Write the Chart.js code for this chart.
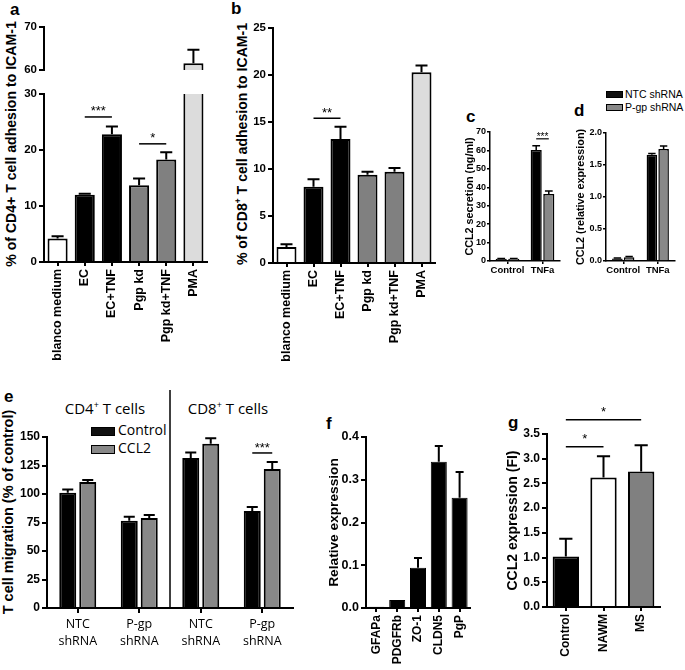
<!DOCTYPE html>
<html>
<head>
<meta charset="utf-8">
<script src="https://cdn.jsdelivr.net/npm/chart.js@4.4.1/dist/chart.umd.min.js"></script>
<style>
  html, body { margin: 0; padding: 0; background: #fff; }
  body { width: 685px; height: 670px; overflow: hidden; position: relative; font-family: "Liberation Sans", Arial, sans-serif; color: #000; }
  canvas { position: absolute; display: block; }
  .lbl { position: absolute; font-weight: bold; font-size: 17px; line-height: 1; }
  .vt { position: absolute; white-space: nowrap; transform: translate(-50%, -50%) rotate(-90deg); font-weight: bold; line-height: 1; }
  .vt sup, .hdr sup { font-size: 60%; vertical-align: top; position: relative; top: -0.15em; }
  .hdr { position: absolute; white-space: nowrap; font-family: "Open Sans", sans-serif; font-size: 15px; line-height: 1; transform: translate(-50%, -50%); }
  .leg { position: absolute; white-space: nowrap; line-height: 1; }
  .sw { position: absolute; box-sizing: border-box; }
</style>
</head>
<body>
<!-- panel letters -->
<div class="lbl" style="left:10px;top:1px">a</div>
<div class="lbl" style="left:231px;top:0px">b</div>
<div class="lbl" style="left:466px;top:108px">c</div>
<div class="lbl" style="left:574px;top:102px">d</div>
<div class="lbl" style="left:4px;top:388px">e</div>
<div class="lbl" style="left:326px;top:415px">f</div>
<div class="lbl" style="left:508px;top:414px">g</div>

<!-- y titles drawn as text -->
<div class="vt" style="left:11px;top:144px;font-size:14.1px">% of CD4+ T cell adhesion to ICAM-1</div>
<div class="vt" style="left:242px;top:144px;font-size:14.1px">% of CD8<sup>+</sup> T cell adhesion to ICAM-1</div>
<div class="vt" style="left:8px;top:512px;font-size:14.5px">T cell migration (% of control)</div>

<!-- legend c/d -->
<div class="sw" style="left:606px;top:91px;width:17px;height:7px;background:#111;border:1.5px solid #000"></div>
<div class="sw" style="left:606px;top:104px;width:17px;height:7px;background:#888;border:1.5px solid #000"></div>
<div class="leg" style="left:625px;top:89px;font-size:10.5px">NTC shRNA</div>
<div class="leg" style="left:625px;top:102px;font-size:10.5px">P-gp shRNA</div>

<!-- panel e headers and legend -->
<div class="hdr" style="left:105px;top:408px">CD4<sup>+</sup> T cells</div>
<div class="hdr" style="left:228px;top:408px">CD8<sup>+</sup> T cells</div>
<div class="sw" style="left:91px;top:427px;width:24px;height:9px;background:#111;border:1.5px solid #000"></div>
<div class="sw" style="left:91px;top:445px;width:24px;height:9px;background:#888;border:1.5px solid #000"></div>
<div class="leg" style="left:118px;top:423px;font-size:14px;font-family:'Open Sans',sans-serif">Control</div>
<div class="leg" style="left:118px;top:441px;font-size:14px;font-family:'Open Sans',sans-serif">CCL2</div>

<canvas id="aTop" width="215" height="62" style="left:0px;top:17px"></canvas>
<canvas id="aBot" width="215" height="288" style="left:0px;top:84px"></canvas>
<canvas id="bChart" width="215" height="355" style="left:230px;top:18px"></canvas>
<canvas id="cChart" width="110" height="160" style="left:455px;top:122px"></canvas>
<canvas id="dChart" width="120" height="159" style="left:565px;top:123px"></canvas>
<canvas id="eChart" width="300" height="285" style="left:0px;top:385px"></canvas>
<canvas id="fChart" width="160" height="245" style="left:320px;top:425px"></canvas>
<canvas id="gChart" width="190" height="270" style="left:495px;top:400px"></canvas>

<script>
// ---------------- DATA ----------------
const adhesionCategories = ['blanco medium', 'EC', 'EC+TNF', 'Pgp kd', 'Pgp kd+TNF', 'PMA'];
const cd4Adhesion    = [4.2, 12.0, 22.8, 13.7, 18.3, 61.6];
const cd4AdhesionErr = [0.4, 0.2, 1.4, 1.2, 1.3, 3.1];
const cd4Sig = [
  { from: [0, 1], to: [0, 2], y: 25.9, text: '***' },
  { from: [0, 3], to: [0, 4], y: 21.1, text: '*' }
];
const cd8Adhesion    = [1.7, 8.1, 13.2, 9.4, 9.7, 20.3];
const cd8AdhesionErr = [0.3, 0.8, 1.3, 0.3, 0.4, 0.7];
const cd8Sig = [{ from: [0, 1], to: [0, 2], y: 15.4, text: '**' }];

const ccl2Categories = ['Control', 'TNFa'];
const secretionNTC    = [1.2, 60.3];
const secretionNTCErr = [0.2, 2.2];
const secretionPgp    = [1.2, 36.4];
const secretionPgpErr = [0.2, 1.6];
const secretionSig = [{ from: [0, 1], to: [1, 1], y: 66.3, text: '***' }];
const expressionNTC    = [0.04, 1.66];
const expressionNTCErr = [0.005, 0.02];
const expressionPgp    = [0.06, 1.75];
const expressionPgpErr = [0.01, 0.045];

const migrationCategories = [['NTC', 'shRNA'], ['P-gp', 'shRNA'], ['NTC', 'shRNA'], ['P-gp', 'shRNA']];
const migrationControl    = [101, 76.5, 131.5, 85];
const migrationControlErr = [3, 3.5, 5, 3.5];
const migrationCCL2       = [110.5, 79, 144, 122];
const migrationCCL2Err    = [1.8, 2.5, 5, 6];
const migrationSig = [{ from: [0, 3], to: [1, 3], y: 136, text: '***' }];

const markerCategories = ['GFAPa', 'PDGFRb', 'ZO-1', 'CLDN5', 'PgP'];
const markerExpression = [0.003, 0.019, 0.094, 0.342, 0.258];
const markerErr        = [0, 0, 0.023, 0.037, 0.06];

const tissueCategories = ['Control', 'NAWM', 'MS'];
const tissueCCL2    = [1.02, 2.62, 2.74];
const tissueCCL2Err = [0.36, 0.43, 0.53];
const tissueSig = [
  { from: [0, 0], to: [0, 1], y: 3.24, text: '*' },
  { from: [0, 0], to: [0, 2], y: 3.79, text: '*' }
];

// ---------------- STYLE / HELPERS ----------------
const FONT = "'Liberation Sans', Arial, sans-serif";
const OPEN = "'Open Sans', sans-serif";
Chart.defaults.font.family = FONT;
Chart.defaults.color = '#000';
Chart.defaults.animation = false;
Chart.defaults.plugins.legend.display = false;
Chart.defaults.plugins.tooltip.enabled = false;

const errorBars = {
  id: 'errbars',
  afterDatasetsDraw(chart, args, opts) {
    const ctx = chart.ctx, ys = chart.scales.y, a = chart.chartArea;
    ctx.save();
    ctx.beginPath();
    ctx.rect(a.left - 3, a.top - 3, a.right - a.left + 6, a.bottom - a.top + 6);
    ctx.clip();
    ctx.strokeStyle = '#000';
    ctx.lineWidth = opts.lineWidth || 2;
    chart.data.datasets.forEach((ds, di) => {
      if (!ds.errors) return;
      chart.getDatasetMeta(di).data.forEach((el, i) => {
        const e = ds.errors[i];
        if (!e) return;
        const v = ds.data[i];
        const y0 = ys.getPixelForValue(v), y1 = ys.getPixelForValue(v + e);
        const cw = el.width * (opts.cap || 0.6);
        ctx.beginPath();
        ctx.moveTo(el.x, y0); ctx.lineTo(el.x, y1);
        ctx.moveTo(el.x - cw / 2, y1); ctx.lineTo(el.x + cw / 2, y1);
        ctx.stroke();
      });
    });
    ctx.restore();
  }
};

const sigMarks = {
  id: 'sig',
  afterDatasetsDraw(chart, args, opts) {
    if (!opts.items) return;
    const ctx = chart.ctx, ys = chart.scales.y;
    ctx.save();
    ctx.strokeStyle = '#000'; ctx.fillStyle = '#000';
    ctx.lineWidth = opts.lineWidth || 1.5;
    ctx.font = opts.font || ('13px ' + FONT);
    ctx.textAlign = 'center'; ctx.textBaseline = 'alphabetic';
    opts.items.forEach(it => {
      const x1 = chart.getDatasetMeta(it.from[0]).data[it.from[1]].x;
      const x2 = chart.getDatasetMeta(it.to[0]).data[it.to[1]].x;
      const y = ys.getPixelForValue(it.y);
      ctx.beginPath(); ctx.moveTo(x1, y); ctx.lineTo(x2, y); ctx.stroke();
      ctx.fillText(it.text, (x1 + x2) / 2, y + (opts.dy || 0));
    });
    ctx.restore();
  }
};

const divider = {
  id: 'divider',
  afterDraw(chart, args, opts) {
    if (!opts.enabled) return;
    const xs = chart.scales.x, ctx = chart.ctx;
    const x = (xs.getPixelForTick(1) + xs.getPixelForTick(2)) / 2;
    ctx.save();
    ctx.strokeStyle = '#000'; ctx.lineWidth = opts.lineWidth || 1.5;
    ctx.beginPath(); ctx.moveTo(x, opts.top); ctx.lineTo(x, chart.chartArea.bottom); ctx.stroke();
    ctx.restore();
  }
};

function yAxis(o) {
  return {
    type: 'linear', min: o.min, max: o.max,
    afterFit: s => { s.width = o.width; },
    ticks: { stepSize: o.step, font: { size: o.fs, weight: 'bold', family: FONT }, color: '#000', padding: o.pad, callback: o.fmt || (v => v) },
    grid: { display: true, drawOnChartArea: false, drawTicks: true, tickLength: o.tl, color: '#000', lineWidth: o.lw },
    border: { display: true, color: '#000', width: o.lw },
    title: o.title ? { display: true, text: o.title, color: '#000', font: { size: o.tfs, weight: 'bold', family: FONT }, padding: { top: o.tpad, bottom: 0 } } : { display: false }
  };
}
function xAxis(o) {
  return {
    type: 'category', offset: true, display: o.display !== false,
    afterFit: s => { s.height = o.height; },
    ticks: { font: { size: o.fs, weight: o.weight || 'bold', family: o.family || FONT, lineHeight: o.lh || 1.2 }, color: '#000', padding: o.pad, autoSkip: false, maxRotation: o.rot || 0, minRotation: o.rot || 0 },
    grid: { display: true, offset: false, drawOnChartArea: false, drawTicks: true, tickLength: o.tl, color: '#000', lineWidth: o.lw },
    border: { display: true, color: '#000', width: o.lw }
  };
}
function make(id, cfg) {
  return new Chart(document.getElementById(id), {
    type: 'bar',
    data: cfg.data,
    plugins: [errorBars, sigMarks, divider],
    options: {
      responsive: false, devicePixelRatio: 1, animation: false,
      layout: { padding: cfg.padding, autoPadding: false },
      datasets: { bar: cfg.bar },
      scales: { x: cfg.x, y: cfg.y },
      plugins: { legend: { display: false }, tooltip: { enabled: false },
        errbars: cfg.err || {}, sig: cfg.sig || {}, divider: cfg.divider || {} }
    }
  });
}

const adhesionFill = ['#ffffff', '#000000', '#000000', '#808080', '#808080', '#dcdcdc'];

// ---------------- PANEL a (broken axis: two stacked charts) ----------------
function cd4Dataset() {
  return { data: cd4Adhesion, errors: cd4AdhesionErr, backgroundColor: adhesionFill, borderColor: '#000', borderWidth: 2, clip: 0 };
}
make('aTop', {
  data: { labels: adhesionCategories, datasets: [cd4Dataset()] },
  padding: { left: 0, top: 10, right: 8, bottom: 3 },
  bar: { categoryPercentage: 1, barPercentage: 0.74 },
  x: Object.assign(xAxis({ height: 0, fs: 12, tl: 0, lw: 2, pad: 0 }), { display: false, afterFit: s => { s.height = 0; } }),
  y: yAxis({ min: 60, max: 70, step: 10, width: 44, fs: 11.5, pad: 2, tl: 5, lw: 2 }),
  err: { lineWidth: 2, cap: 0.6 }
});
make('aBot', {
  data: { labels: adhesionCategories, datasets: [cd4Dataset()] },
  padding: { left: 0, top: 10, right: 8, bottom: 0 },
  bar: { categoryPercentage: 1, barPercentage: 0.74 },
  x: xAxis({ height: 110, fs: 12.5, tl: 4, lw: 2, pad: 3, rot: 90 }),
  y: yAxis({ min: 0, max: 30, step: 10, width: 44, fs: 11.5, pad: 2, tl: 5, lw: 2 }),
  err: { lineWidth: 2, cap: 0.6 },
  sig: { items: cd4Sig, lineWidth: 1.5, font: '13px ' + FONT, dy: -1.5 }
});

// ---------------- PANEL b ----------------
make('bChart', {
  data: { labels: adhesionCategories, datasets: [{ data: cd8Adhesion, errors: cd8AdhesionErr, backgroundColor: adhesionFill, borderColor: '#000', borderWidth: 2, clip: 0 }] },
  padding: { left: 0, top: 10, right: 10, bottom: 0 },
  bar: { categoryPercentage: 1, barPercentage: 0.74 },
  x: xAxis({ height: 110, fs: 12.5, tl: 4, lw: 2, pad: 3, rot: 90 }),
  y: yAxis({ min: 0, max: 25, step: 5, width: 43, fs: 11.5, pad: 2, tl: 5, lw: 2 }),
  err: { lineWidth: 2, cap: 0.6 },
  sig: { items: cd8Sig, lineWidth: 1.5, font: '13px ' + FONT, dy: -1.5 }
});

// ---------------- PANEL c ----------------
make('cChart', {
  data: { labels: ccl2Categories, datasets: [
    { label: 'NTC shRNA', data: secretionNTC, errors: secretionNTCErr, backgroundColor: '#000', borderColor: '#000', borderWidth: 1.5 },
    { label: 'P-gp shRNA', data: secretionPgp, errors: secretionPgpErr, backgroundColor: '#888', borderColor: '#000', borderWidth: 1.5 }
  ] },
  padding: { left: 0, top: 10, right: 5, bottom: 0 },
  bar: { categoryPercentage: 0.72, barPercentage: 0.88 },
  x: xAxis({ height: 21, fs: 9.5, tl: 3, lw: 1.5, pad: 1 }),
  y: yAxis({ min: 0, max: 70, step: 10, width: 35, fs: 9, pad: 1, tl: 3, lw: 1.5, title: 'CCL2 secretion (ng/ml)', tfs: 10.8, tpad: 8.5 }),
  err: { lineWidth: 1.5, cap: 0.7 },
  sig: { items: secretionSig, lineWidth: 1.2, font: '10px ' + FONT, dy: 1 }
});

// ---------------- PANEL d ----------------
make('dChart', {
  data: { labels: ccl2Categories, datasets: [
    { label: 'NTC shRNA', data: expressionNTC, errors: expressionNTCErr, backgroundColor: '#000', borderColor: '#000', borderWidth: 1.5 },
    { label: 'P-gp shRNA', data: expressionPgp, errors: expressionPgpErr, backgroundColor: '#888', borderColor: '#000', borderWidth: 1.5 }
  ] },
  padding: { left: 0, top: 10, right: 10, bottom: 0 },
  bar: { categoryPercentage: 0.68, barPercentage: 0.9 },
  x: xAxis({ height: 21, fs: 9.5, tl: 3, lw: 1.5, pad: 1 }),
  y: yAxis({ min: 0, max: 2, step: 0.5, width: 41, fs: 9, pad: 1, tl: 3, lw: 1.5, fmt: v => Number(v).toFixed(1), title: 'CCL2 (relative expression)', tfs: 10.8, tpad: 9.5 }),
  err: { lineWidth: 1.5, cap: 0.7 }
});

// ---------------- PANEL e ----------------
make('eChart', {
  data: { labels: migrationCategories, datasets: [
    { label: 'Control', data: migrationControl, errors: migrationControlErr, backgroundColor: '#000', borderColor: '#000', borderWidth: 2 },
    { label: 'CCL2', data: migrationCCL2, errors: migrationCCL2Err, backgroundColor: '#888', borderColor: '#000', borderWidth: 2 }
  ] },
  padding: { left: 0, top: 52, right: 7, bottom: 0 },
  bar: { categoryPercentage: 0.65, barPercentage: 0.85 },
  x: xAxis({ height: 62, fs: 12.5, weight: 'normal', family: OPEN, lh: 1.35, tl: 5, lw: 2, pad: 3 }),
  y: yAxis({ min: 0, max: 150, step: 25, width: 47, fs: 12, pad: 2, tl: 5, lw: 2 }),
  err: { lineWidth: 2, cap: 0.65 },
  sig: { items: migrationSig, lineWidth: 1.5, font: '13px ' + FONT, dy: -0.5 },
  divider: { enabled: true, top: 5, lineWidth: 1.5 }
});

// ---------------- PANEL f ----------------
make('fChart', {
  data: { labels: markerCategories, datasets: [
    { data: markerExpression, errors: markerErr, backgroundColor: '#000', borderColor: '#000', borderWidth: 1 }
  ] },
  padding: { left: 0, top: 12, right: 10, bottom: 0 },
  bar: { categoryPercentage: 1, barPercentage: 0.77 },
  x: xAxis({ height: 62, fs: 12, tl: 4, lw: 2, pad: 3, rot: 90 }),
  y: yAxis({ min: 0, max: 0.4, step: 0.1, width: 46, fs: 12.5, pad: 2, tl: 5, lw: 2, fmt: v => Number(v).toFixed(1), title: 'Relative expression', tfs: 13.7, tpad: 6.5 }),
  err: { lineWidth: 2, cap: 0.5 }
});

// ---------------- PANEL g ----------------
make('gChart', {
  data: { labels: tissueCategories, datasets: [
    { data: tissueCCL2, errors: tissueCCL2Err, backgroundColor: ['#000', '#fff', '#808080'], borderColor: '#000', borderWidth: 2 }
  ] },
  padding: { left: 0, top: 34, right: 25, bottom: 0 },
  bar: { categoryPercentage: 1, barPercentage: 0.7 },
  x: xAxis({ height: 63, fs: 12, tl: 4, lw: 2, pad: 3, rot: 90 }),
  y: yAxis({ min: 0, max: 3.5, step: 0.5, width: 52, fs: 12, pad: 2, tl: 5, lw: 2, fmt: v => Number(v).toFixed(1), title: 'CCL2 expression (FI)', tfs: 14, tpad: 9.5 }),
  err: { lineWidth: 2, cap: 0.5 },
  sig: { items: tissueSig, lineWidth: 1.5, font: '13px ' + FONT, dy: -4 }
});
</script>
</body>
</html>
